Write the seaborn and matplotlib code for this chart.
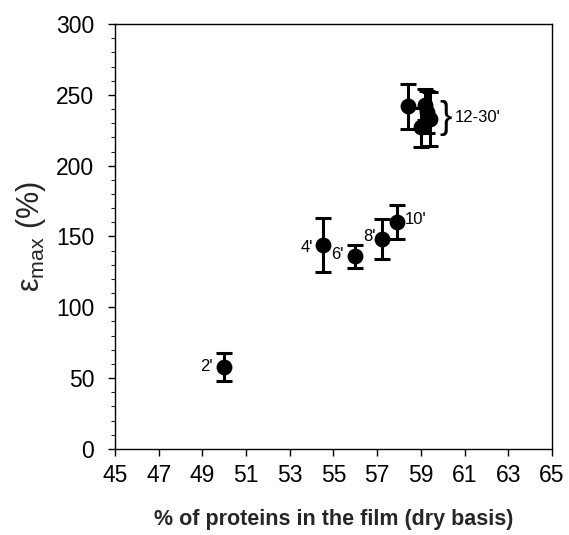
import matplotlib
matplotlib.use("Agg")
import matplotlib.pyplot as plt
import seaborn as sns
import pandas as pd
from matplotlib.ticker import MultipleLocator

sns.set_theme(style="ticks")
plt.rcParams['font.family'] = ['Liberation Sans', 'DejaVu Sans']
plt.rcParams['mathtext.fontset'] = 'custom'
plt.rcParams['mathtext.rm'] = 'Liberation Sans'
plt.rcParams['mathtext.it'] = 'Liberation Sans'

# data
times = ["2'", "4'", "6'", "8'", "10'", "12'", "14'", "16'", "18'", "20'"]
protein = [50.0, 54.5, 56.0, 57.2, 57.9, 58.4, 59.0, 59.2, 59.3, 59.4]
emax = [58, 144, 136, 148, 160, 242, 227, 243, 238, 233]
err = [10, 19, 8, 14, 12, 16, 14, 11, 15, 19]
x_ticks = [45, 47, 49, 51, 53, 55, 57, 59, 61, 63, 65]
y_ticks = [0, 50, 100, 150, 200, 250, 300]

df = pd.DataFrame({"time": times, "protein": protein, "emax": emax, "err": err})

fig = plt.figure(figsize=(5.69, 5.35), dpi=100)
ax = fig.add_axes([0.202, 0.161, 0.768, 0.794])

ax.errorbar(df["protein"], df["emax"], yerr=df["err"], fmt='none',
            ecolor='black', elinewidth=2.2, capsize=5.5, capthick=2.2, zorder=2)
sns.scatterplot(data=df, x="protein", y="emax", ax=ax, color='black',
                s=130, edgecolor='black', linewidth=0, zorder=3, legend=False)

ax.set_xlim(45, 65)
ax.set_ylim(0, 300)
ax.set_xticks(x_ticks)
ax.set_yticks(y_ticks)
ax.yaxis.set_minor_locator(MultipleLocator(10))
ax.tick_params(axis='both', which='major', labelsize=16.5, length=5, width=1,
               direction='out', pad=6, colors='black')
ax.tick_params(axis='y', which='major', pad=10)
ax.tick_params(axis='y', which='minor', length=3, width=0.8, direction='out')
for s in ax.spines.values():
    s.set_linewidth(1.0)
    s.set_color('black')

ax.set_xlabel("% of proteins in the film (dry basis)", fontsize=15.5,
              fontweight='bold', labelpad=16)
ax.set_ylabel(r"$\varepsilon_{\mathrm{max}}$ (%)", fontsize=22, labelpad=6)

lab_kw = dict(fontsize=12, color='black', va='center', textcoords='offset points')
def lab(txt, i, dx, dy, ha):
    ax.annotate(txt, (protein[i], emax[i]), xytext=(dx, dy), ha=ha, **lab_kw)

lab("2'", 0, -8.5, 0, 'right')
lab("4'", 1, -7, -2, 'right')
lab("6'", 2, -8.5, 1, 'right')
lab("8'", 3, -4.5, 2, 'right')
lab("10'", 4, 5.5, 2, 'left')
ax.annotate("}", (59.4, 233), xytext=(7, 1), textcoords='offset points',
            ha='left', va='center', fontsize=27, color='black')
ax.annotate("12-30'", (59.4, 233), xytext=(18, 1), textcoords='offset points',
            ha='left', va='center', fontsize=12, color='black')

fig.savefig("out.png", dpi=100)
